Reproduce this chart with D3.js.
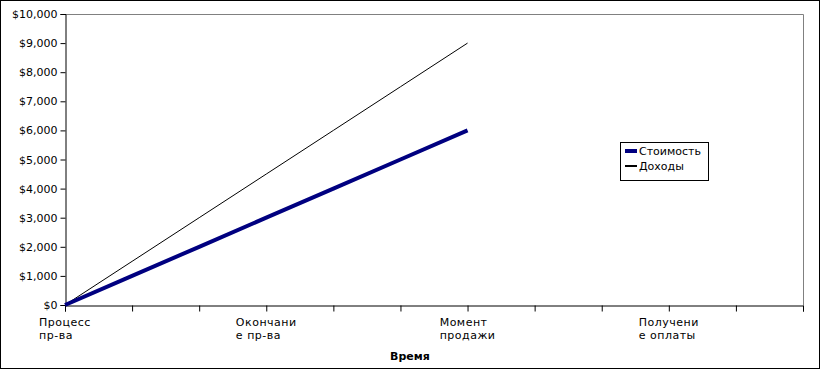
<!DOCTYPE html>
<html><head><meta charset="utf-8">
<script src="https://cdn.jsdelivr.net/npm/d3@7"></script>
<style>body{margin:0;background:#fff}svg{display:block}text{font-family:"DejaVu Sans",sans-serif;font-size:11px;fill:#000}</style>
</head><body><svg id="c" width="821" height="370"></svg>
<script>
const categories = ["Процесс|пр-ва","","","Окончани|е пр-ва","","","Момент|продажи","","","Получени|е оплаты","",""];
const costValues = [0,1000,2000,3000,4000,5000,6000,null,null,null,null,null];
const incomeValues = [0,1500,3000,4500,6000,7500,9000,null,null,null,null,null];
const yTicks = [0,1000,2000,3000,4000,5000,6000,7000,8000,9000,10000];
const seriesNames = ["Стоимость","Доходы"];

const svg = d3.select("#c");
const L = 65, R = 803, T = 14, B = 305;
svg.append("rect").attr("x",0.5).attr("y",0.5).attr("width",819).attr("height",368).attr("fill","#fff").attr("stroke","#000");

const x = d3.scalePoint().domain(d3.range(categories.length)).range([L, R]);
const y = d3.scaleLinear().domain([0,10000]).range([B, T]);

svg.append("path").attr("d",`M${L},${T+0.5}H${R+0.5}V${B}`).attr("fill","none").attr("stroke","#808080");

const yAxis = svg.append("g").attr("transform",`translate(${L+0.5},0)`)
  .call(d3.axisLeft(y).tickValues(yTicks).tickSize(5).tickPadding(3).tickFormat(d => "$" + d3.format(",")(d)));
yAxis.select(".domain").attr("stroke","#000");
yAxis.selectAll("text").style("font-size","11px").attr("font-family","DejaVu Sans");

const xAxis = svg.append("g").attr("transform",`translate(0,${B+0.5})`)
  .call(d3.axisBottom(x).tickValues(d3.range(categories.length)).tickSize(6).tickFormat(""));
xAxis.select(".domain").attr("stroke","#000");
xAxis.selectAll(".tick line").attr("stroke","#000");

categories.forEach((c,i) => {
  if (!c) return;
  const lines = c.split("|");
  const g = svg.append("g");
  const t = g.append("text").attr("y", B + 21).style("letter-spacing","0.5px");
  lines.forEach((ln,k) => t.append("tspan").attr("x",0).attr("dy", k===0?0:13).text(ln));
  const w = t.node().getBBox().width;
  g.attr("transform",`translate(${x(i) - w/2},0)`);
});

svg.append("text").attr("x",410).attr("y",360).attr("text-anchor","middle").attr("font-weight","bold").text("Время");

const line = d3.line().defined(d => d != null).x((d,i) => x(i)).y(d => y(d));
svg.append("path").datum(incomeValues).attr("d",line).attr("fill","none").attr("stroke","#000").attr("stroke-width",1);
svg.append("path").datum(costValues).attr("d",line).attr("fill","none").attr("stroke","#000080").attr("stroke-width",4);

const lg = svg.append("g").attr("transform","translate(620,142)");
lg.append("rect").attr("x",0.5).attr("y",0.5).attr("width",88).attr("height",38).attr("fill","#fff").attr("stroke","#000");
const colors = ["#000080","#000"], widths = [4,2];
seriesNames.forEach((n,i) => {
  const yy = 9 + i*15;
  lg.append("line").attr("x1",5).attr("x2",17).attr("y1",yy).attr("y2",yy).attr("stroke",colors[i]).attr("stroke-width",widths[i]);
  lg.append("text").attr("x",19).attr("y",yy+4).text(n);
});
</script></body></html>
